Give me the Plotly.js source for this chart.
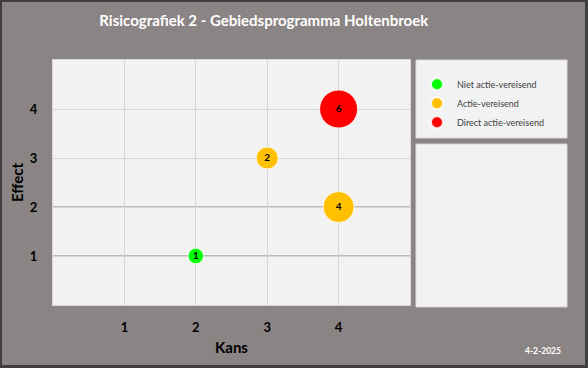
<!DOCTYPE html>
<html>
<head>
<meta charset="utf-8">
<script src="https://cdn.plot.ly/plotly-3.0.1.min.js"></script>
<style>
  html, body { margin: 0; padding: 0; background: #3f3f3f; width: 588px; height: 368px; overflow: hidden; }
  #chart { position: absolute; left: 2px; top: 2px; width: 583px; height: 363px; }
</style>
</head>
<body>
<div id="chart"></div>
<script>
// ---- data ----
const categories = ['Niet actie-vereisend', 'Actie-vereisend', 'Direct actie-vereisend'];
const categoryColors = ['#00FF00', '#FFC000', '#FF0000'];
const kans = [2, 3, 4, 4];
const effect = [1, 3, 2, 4];
const aantal = [1, 2, 4, 6];
const categorie = ['Niet actie-vereisend', 'Actie-vereisend', 'Actie-vereisend', 'Direct actie-vereisend'];
const tickLabels = ['1', '2', '3', '4'];
const tickValues = [1, 2, 3, 4];
const strongGridY = [1, 2];
const titleText = 'Risicografiek 2 - Gebiedsprogramma Holtenbroek';
const dateText = '4-2-2025';

const FONT = 'Lato, "Open Sans", sans-serif';

const traces = categories.map((cat, ci) => {
  const idx = categorie.map((c, i) => c === cat ? i : -1).filter(i => i >= 0);
  return {
    type: 'scatter',
    mode: 'markers+text',
    name: cat,
    x: idx.map(i => kans[i]),
    y: idx.map(i => effect[i]),
    text: idx.map(i => String(aantal[i])),
    textposition: 'middle center',
    textfont: { family: FONT, size: 10, color: '#000000', weight: 'bold' },
    marker: {
      color: categoryColors[ci],
      opacity: 1,
      size: idx.map(i => aantal[i]),
      sizemode: 'area',
      sizeref: 0.008325,
      line: { color: 'rgba(255,255,255,0.8)', width: 1 }
    },
    hoverinfo: 'x+y+text'
  };
});

const shapes = [
  { type: 'rect', xref: 'paper', yref: 'paper', x0: 1.0168, x1: 1.4398, y0: 0.6816, y1: 1.0,
    fillcolor: '#f2f2f2', line: { color: '#d9d9d9', width: 1 }, layer: 'below' },
  { type: 'rect', xref: 'paper', yref: 'paper', x0: 1.0168, x1: 1.4398, y0: -0.008, y1: 0.657,
    fillcolor: '#f2f2f2', line: { color: '#d9d9d9', width: 1 }, layer: 'below' }
].concat(strongGridY.map(v => ({
  type: 'line', xref: 'paper', yref: 'y', x0: 0, x1: 1, y0: v, y1: v,
  line: { color: '#a6a6a6', width: 1.5 }, layer: 'below'
})));

const layout = {
  width: 583,
  height: 363,
  margin: { l: 51, r: 175, t: 58, b: 60, pad: 0 },
  paper_bgcolor: '#8a8584',
  plot_bgcolor: '#f2f2f2',
  font: { family: FONT, color: '#000000' },
  title: {
    text: titleText,
    font: { family: FONT, size: 15, color: '#ffffff', weight: 'bold' },
    xref: 'container', x: 0.449, xanchor: 'center',
    yref: 'container', y: 0.948, yanchor: 'middle'
  },
  xaxis: {
    range: [0, 5],
    tickvals: tickValues,
    ticktext: tickLabels,
    ticks: '',
    showgrid: true,
    gridcolor: '#d6d6d6',
    zeroline: false,
    showline: true,
    mirror: true,
    linecolor: '#d9d9d9',
    tickfont: { family: FONT, size: 13, color: '#000000', weight: 'bold' },
    ticklabelstandoff: 10,
    fixedrange: true,
    title: { text: 'Kans', font: { family: FONT, size: 15, color: '#000000', weight: 'bold' }, standoff: 8 }
  },
  yaxis: {
    range: [0, 5],
    tickvals: tickValues,
    ticktext: tickLabels,
    ticks: '',
    showgrid: true,
    gridcolor: '#d6d6d6',
    zeroline: false,
    showline: true,
    mirror: true,
    linecolor: '#d9d9d9',
    tickfont: { family: FONT, size: 13, color: '#000000', weight: 'bold' },
    ticklabelstandoff: 12,
    fixedrange: true,
    title: { text: 'Effect', font: { family: FONT, size: 15, color: '#000000', weight: 'bold' }, standoff: 2 }
  },
  showlegend: true,
  legend: {
    x: 1.0196, xanchor: 'left',
    y: 0.96, yanchor: 'top',
    bgcolor: 'rgba(0,0,0,0)',
    borderwidth: 0,
    font: { family: FONT, size: 9, color: '#404040' },
    itemsizing: 'constant',
    traceorder: 'normal'
  },
  shapes: shapes,
  annotations: [{
    text: dateText,
    xref: 'paper', yref: 'paper',
    x: 1.3725, y: -0.1878,
    xanchor: 'center', yanchor: 'middle',
    showarrow: false,
    font: { family: FONT, size: 8.5, color: '#ffffff', weight: 'bold' }
  }]
};

Plotly.newPlot('chart', traces, layout, { displayModeBar: false, staticPlot: true });
</script>
</body>
</html>
